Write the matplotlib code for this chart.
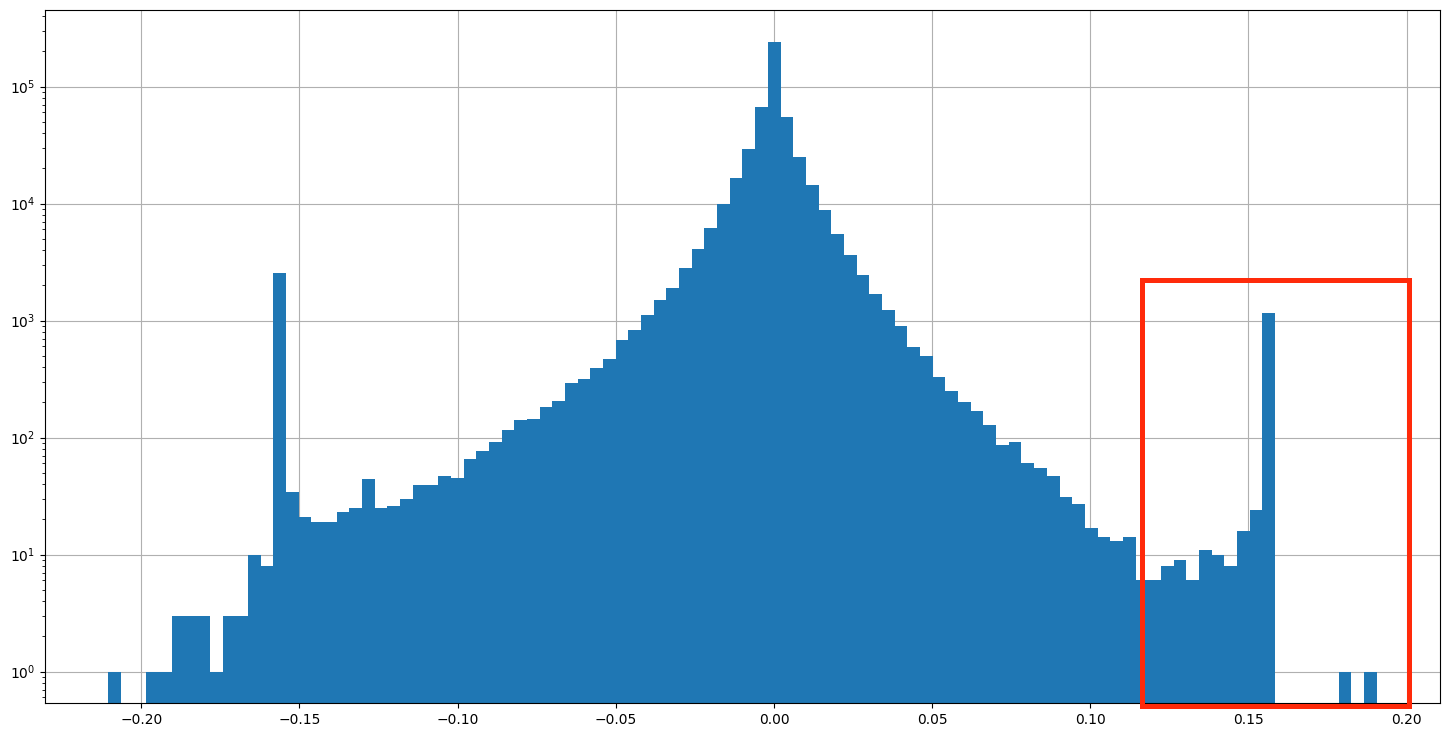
import numpy as np
import matplotlib
matplotlib.use("Agg")
import matplotlib.pyplot as plt
from matplotlib.patches import Rectangle
from matplotlib.ticker import MultipleLocator

# Histogram range and counts per bin (100 bins)
x_min = -0.2104
x_max = 0.1905
n_bins = 100

counts = [
    1, 0, 0, 1, 1, 3, 3, 3, 1, 3,
    3, 10, 8, 2570, 34, 21, 19, 19, 23, 25,
    44, 25, 26, 30, 39, 39, 47, 45, 66, 77,
    91, 117, 140, 143, 184, 207, 290, 319, 389, 473,
    675, 822, 1125, 1511, 1914, 2838, 4046, 6237, 9860, 16370,
    29500, 66200, 242600, 55400, 25200, 14260, 8890, 5540, 3666, 2473,
    1701, 1242, 889, 588, 502, 332, 252, 203, 167, 127,
    87, 91, 60, 55, 47, 31, 27, 17, 14, 13,
    14, 6, 6, 8, 9, 6, 11, 10, 8, 16,
    24, 1170, 0, 0, 0, 0, 0, 1, 0, 1,
]

# Highlight box (data coordinates)
box_x0, box_x1 = 0.1164, 0.2008
box_y0, box_y1 = 0.507, 2220

edges = np.linspace(x_min, x_max, n_bins + 1)
centers = (edges[:-1] + edges[1:]) / 2

fig = plt.figure(figsize=(14.5, 7.36), dpi=100)
ax = fig.add_axes([45 / 1450, 1 - 703 / 736, 1395 / 1450, 693 / 736])
ax.hist(centers, bins=edges, weights=counts, log=True, color="#1f77b4")
ax.grid(True, color="#b0b0b0", linewidth=0.8)
ax.set_axisbelow(True)
ax.xaxis.set_major_locator(MultipleLocator(0.05))

rect = Rectangle((box_x0, box_y0), box_x1 - box_x0, box_y1 - box_y0,
                 fill=False, edgecolor="#ff2a0a", linewidth=3.6,
                 clip_on=False, zorder=5)
ax.add_artist(rect)

fig.savefig("out.png", dpi=100)
